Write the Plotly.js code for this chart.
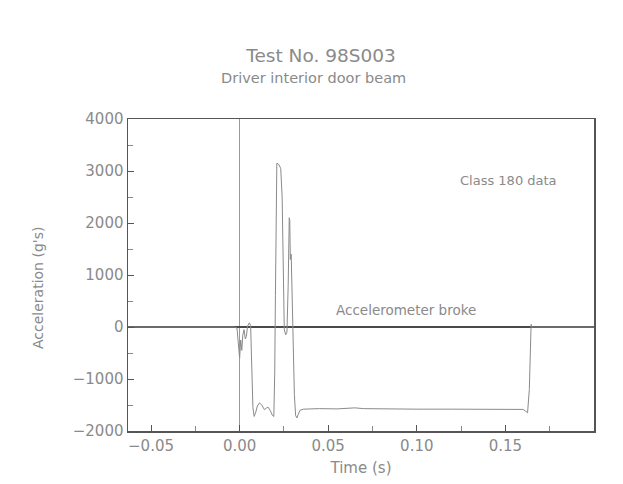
<!DOCTYPE html>
<html>
<head>
<meta charset="utf-8">
<script src="https://cdn.plot.ly/plotly-3.0.1.min.js"></script>
<style>html,body{margin:0;padding:0;background:#fff;}#chart{width:623px;height:484px;}</style>
</head>
<body>
<div id="chart"></div>
<script>
// Data
const timeS = [-0.063, -0.003, -0.0015, -0.0005, 0.0000, 0.0006, 0.0012, 0.0018, 0.0025, 0.0032,
  0.0038, 0.0045, 0.0055, 0.0062, 0.0068, 0.0075, 0.0082, 0.0090, 0.0100, 0.0112,
  0.0125, 0.0140, 0.0150, 0.0160, 0.0172, 0.0185, 0.0193, 0.0198, 0.0202, 0.0206,
  0.0210, 0.0220, 0.0232, 0.0240, 0.0246, 0.0252, 0.0260, 0.0267, 0.0274, 0.0280,
  0.0283, 0.0286, 0.0291, 0.0297, 0.0303, 0.0309, 0.0316, 0.0323, 0.0331, 0.0341,
  0.0360, 0.045, 0.055, 0.060, 0.065, 0.070, 0.080, 0.100, 0.120, 0.140,
  0.155, 0.160, 0.1615, 0.1625, 0.1635, 0.1640, 0.1645, 0.1650, 0.200];
const accelG = [0, 0, -20, -350, -600, -250, -450, -150, -50, -230,
  -180, 20, 80, 30, -900, -1550, -1720, -1650, -1520, -1460,
  -1500, -1590, -1560, -1540, -1600, -1700, -1720, -900, 600, 2500,
  3150, 3130, 3050, 2500, 1000, -50, -150, -100, 800, 2100,
  2050, 1300, 1400, 500, -500, -1300, -1700, -1750, -1680, -1600,
  -1580, -1570, -1575, -1560, -1555, -1570, -1575, -1580, -1580, -1580,
  -1580, -1585, -1620, -1650, -1200, -200, 50, 0, 0];
const xTickVals = [-0.05, 0.00, 0.05, 0.10, 0.15];
const xTickText = ["\u22120.05", "0.00", "0.05", "0.10", "0.15"];
const yTickVals = [-2000, -1000, 0, 1000, 2000, 3000, 4000];
const yTickText = ["\u22122000", "\u22121000", "0", "1000", "2000", "3000", "4000"];
const titleText = "Test No. 98S003";
const subtitleText = "Driver interior door beam";
const yTitleText = "Acceleration (g's)";
const noteClass = "Class 180 data";
const noteBroke = "Accelerometer broke";

const FONT = "DejaVu Sans, sans-serif";
const TXT = "#8a8a8a";
const AX = "#555555";

const trace = {
  x: timeS, y: accelG, type: "scatter", mode: "lines",
  line: {color: "#8a8a8a", width: 1}, hoverinfo: "skip"
};

const layout = {
  width: 623, height: 484,
  margin: {l: 128, r: 29, t: 119, b: 53},
  paper_bgcolor: "#ffffff", plot_bgcolor: "#ffffff",
  showlegend: false,
  font: {family: FONT, color: TXT, size: 14},
  title: {text: titleText, font: {family: FONT, size: 18.5, color: TXT},
          x: 321/623, xanchor: "center", y: 1 - 56/484, yanchor: "middle", xref: "container", yref: "container"},
  xaxis: {
    range: [-0.063, 0.2], showgrid: false,
    zeroline: true, zerolinecolor: "#9a9a9a", zerolinewidth: 1,
    showline: true, mirror: true, linecolor: AX, linewidth: 1.5,
    ticks: "inside", ticklen: 6, tickcolor: AX, tickwidth: 1,
    tickvals: xTickVals, ticktext: xTickText,
    minor: {ticks: "inside", ticklen: 5, tickcolor: "#888", dtick: 0.025, tick0: 0, showgrid: false},
    tickfont: {family: FONT, size: 15, color: TXT},
    title: {text: "Time (s)", font: {family: FONT, size: 15, color: TXT}, standoff: 9}
  },
  yaxis: {
    range: [-2000, 4000], showgrid: false,
    zeroline: true, zerolinecolor: "#4a4a4a", zerolinewidth: 1.2,
    showline: true, mirror: true, linecolor: AX, linewidth: 1.5,
    ticks: "inside", ticklen: 6, tickcolor: AX, tickwidth: 1,
    tickvals: yTickVals, ticktext: yTickText,
    minor: {ticks: "inside", ticklen: 5, tickcolor: "#888", dtick: 500, tick0: 0, showgrid: false},
    tickfont: {family: FONT, size: 15, color: TXT},
    title: {text: ""}
  },
  annotations: [
    {text: subtitleText, xref: "paper", yref: "paper", x: (313-128)/466, y: (431-78)/312,
     xanchor: "center", yanchor: "middle", showarrow: false, font: {family: FONT, size: 14.5, color: TXT}},
    {text: yTitleText, xref: "paper", yref: "paper", x: (38-128)/466, y: (431-288)/312, textangle: -90,
     xanchor: "center", yanchor: "middle", showarrow: false, font: {family: FONT, size: 14, color: TXT}},
    {text: noteClass, xref: "x", yref: "y", x: 0.1235, y: 2820,
     xanchor: "left", yanchor: "middle", showarrow: false, font: {family: FONT, size: 13, color: TXT}},
    {text: noteBroke, xref: "x", yref: "y", x: 0.0535, y: 320,
     xanchor: "left", yanchor: "middle", showarrow: false, font: {family: FONT, size: 13.5, color: TXT}}
  ]
};

Plotly.newPlot("chart", [trace], layout, {displayModeBar: false, staticPlot: true});
</script>
</body>
</html>
